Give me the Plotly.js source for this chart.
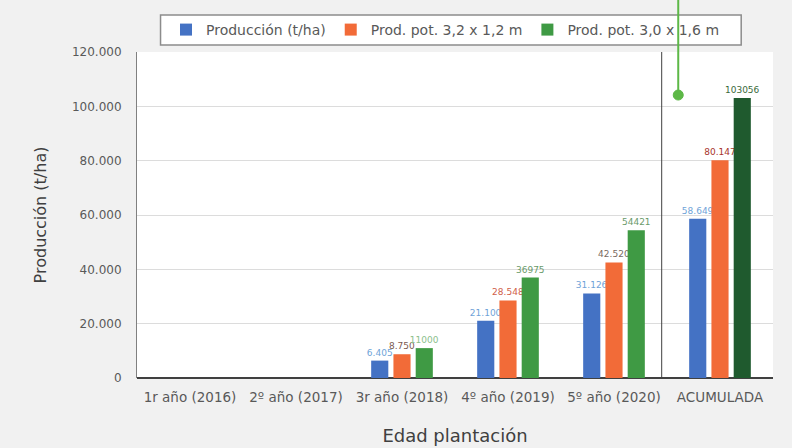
<!DOCTYPE html>
<html>
<head>
<meta charset="utf-8">
<script src="https://cdn.plot.ly/plotly-3.0.1.min.js"></script>
<style>html,body{margin:0;padding:0;background:#f1f1f1;}#chart{width:792px;height:448px;}</style>
</head>
<body>
<div id="chart"></div>
<script>
const categories = ["1r año (2016)", "2º año (2017)", "3r año (2018)", "4º año (2019)", "5º año (2020)", "ACUMULADA"];
const produccion = [0, 0, 6405, 21100, 31126, 58649];
const prod32 = [0, 0, 8750, 28548, 42520, 80147];
const prod30 = [0, 0, 11000, 36975, 54421, 103056];
const seriesNames = ["Producción (t/ha)", "Prod. pot. 3,2 x 1,2 m", "Prod. pot. 3,0 x 1,6 m"];
const yTicks = [0, 20000, 40000, 60000, 80000, 100000, 120000];

function dotted(v) { return v === 0 ? "" : String(v).replace(/\B(?=(\d{3})+(?!\d))/g, "."); }
function plain(v) { return v === 0 ? "" : String(v); }

const font = "'DejaVu Sans', sans-serif";
const traces = [
  {type: "bar", name: seriesNames[0], x: categories, y: produccion,
   marker: {color: "#4472c4"}, text: produccion.map(dotted), textposition: "outside",
   textfont: {size: 9, color: "#6fa3d8", family: font}, cliponaxis: false, constraintext: "none"},
  {type: "bar", name: seriesNames[1], x: categories, y: prod32,
   marker: {color: "#f26b38"}, text: prod32.map(dotted), textposition: "outside",
   textfont: {size: 9, color: ["#c0504d","#c0504d","#7a5a50","#d0604a","#7a6a60","#a8342c"], family: font}, cliponaxis: false, constraintext: "none"},
  {type: "bar", name: seriesNames[2], x: categories, y: prod30,
   marker: {color: ["#3f9a44","#3f9a44","#3f9a44","#3f9a44","#3f9a44","#1f5a2e"]}, text: prod30.map(plain), textposition: "outside",
   textfont: {size: 9, color: ["#5aaa5a","#5aaa5a","#8cc08c","#6a9a6a","#6a9a6a","#3a6a3a"], family: font}, cliponaxis: false, constraintext: "none"}
];

const layout = {
  width: 792, height: 448,
  margin: {l: 137, r: 19, t: 52, b: 70, autoexpand: false},
  paper_bgcolor: "#f1f1f1", plot_bgcolor: "#ffffff",
  separators: ",.",
  font: {family: font, color: "#595959", size: 11},
  barmode: "group", bargap: 0.37, bargroupgap: 0.23,
  showlegend: true,
  legend: {orientation: "h", x: 0.0456, xanchor: "left", y: 1.0675, yanchor: "middle",
    bgcolor: "rgba(0,0,0,0)", borderwidth: 0,
    font: {size: 14, color: "#595959", family: font}},
  xaxis: {type: "category", showline: false,
    ticks: "", tickangle: 0, ticklabelstandoff: 9, tickfont: {size: 13.5, color: "#595959"},
    title: {text: "Edad plantación", font: {size: 18, color: "#404040"}, standoff: 25}},
  yaxis: {range: [0, 120000], tickvals: yTicks, tickformat: ",d",
    showgrid: true, gridcolor: "#dcdcdc", gridwidth: 1,
    showline: true, linecolor: "#808080", linewidth: 1,
    zeroline: true, zerolinecolor: "#404040", zerolinewidth: 1.8,
    ticks: "", ticklen: 0, ticklabelstandoff: 12, tickfont: {size: 12, color: "#595959"},
    title: {text: "Producción (t/ha)", font: {size: 16, color: "#404040"}, standoff: 21}},
  shapes: [
    {type: "rect", xref: "paper", yref: "paper", x0: 0.037, x1: 0.95, y0: 1.0215, y1: 1.1135,
     fillcolor: "#ffffff", line: {color: "#8c8c8c", width: 1.5}},
    {type: "line", xref: "x", yref: "paper", x0: 4.45, x1: 4.45, y0: 0, y1: 1,
     line: {color: "#404040", width: 1}},
    {type: "line", xref: "paper", yref: "paper", x0: 0.851, x1: 0.851, y0: 0.868, y1: 1.2,
     line: {color: "#5db847", width: 2}},
    {type: "circle", xref: "paper", yref: "paper", xsizemode: "pixel", ysizemode: "pixel",
     xanchor: 0.851, yanchor: 0.868, x0: -5, x1: 5, y0: -5, y1: 5,
     fillcolor: "#5db847", line: {color: "#5db847", width: 1}}
  ]
};

Plotly.newPlot("chart", traces, layout, {displayModeBar: false, staticPlot: true});
</script>
</body>
</html>
